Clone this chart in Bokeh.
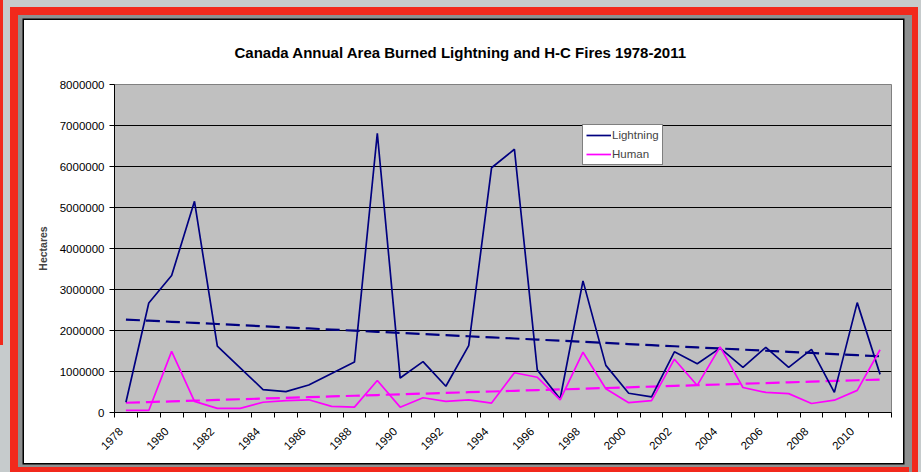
import numpy as np
from bokeh.plotting import figure
from bokeh.layouts import row
from bokeh.models import (Range1d, FixedTicker, BasicTickFormatter, Legend,
                          LegendItem, CustomJSTickFormatter, Spacer)
from bokeh.embed import file_html
from bokeh.resources import INLINE

# Annual area burned in Canada (hectares), by cause
years = list(range(1978, 2012))
lightning = [250000, 2670000, 3340000, 5150000, 1620000, 1090000, 560000,
             510000, 670000, 950000, 1230000, 6810000, 840000, 1240000,
             640000, 1630000, 5970000, 6420000, 1040000, 330000, 3210000,
             1150000, 470000, 380000, 1480000, 1190000, 1570000, 1100000,
             1590000, 1100000, 1540000, 490000, 2680000, 930000]
human = [50000, 50000, 1490000, 270000, 100000, 100000, 250000, 290000,
         310000, 150000, 130000, 780000, 130000, 360000, 270000, 310000,
         230000, 970000, 860000, 310000, 1470000, 580000, 240000, 290000,
         1300000, 660000, 1600000, 610000, 490000, 460000, 220000, 300000,
         540000, 1530000]
y_ticks = list(range(0, 8000001, 1000000))
label_years = list(range(1978, 2012, 2))

FONT = "Liberation Sans"
NAVY = "#000080"
MAGENTA = "#FF00FF"
RED = "#f2291c"

# slide-style frame around the white chart card (black rule, grey band,
# red border, pale backdrop), drawn as layered CSS shadows
frame_css = ", ".join([
    "0 0 0 1.5px #000000",
    f"0 453px 0 6px {RED}",
    "1.5px 2.5px 0 7.5px #8e9090",
    f"0.5px 1.5px 0 14.5px {RED}",
    "0 0 0 60px #c6cbcc",
])

p = figure(width=879, height=443, output_backend="svg", toolbar_location=None,
           x_range=Range1d(years[0] - 0.5, years[-1] + 0.5),
           y_range=Range1d(0, 8000000),
           min_border_left=90, min_border_right=12,
           min_border_top=64, min_border_bottom=51,
           margin=(20, 0, 0, 21),
           styles={"box-shadow": frame_css})

p.background_fill_color = "#C0C0C0"
p.border_fill_color = "white"
p.outline_line_color = "#808080"
p.outline_line_width = 1

# title
p.title.text = "Canada Annual Area Burned Lightning and H-C Fires 1978-2011"
p.title.align = "left"
p.title.offset = 120
p.title.standoff = 44
p.title.vertical_align = "top"
p.title.text_font = FONT
p.title.text_font_size = "15px"
p.title.text_font_style = "bold"
p.title.text_color = "black"

# y axis
yax = p.yaxis[0]
yax.ticker = FixedTicker(ticks=y_ticks)
yax.formatter = BasicTickFormatter(use_scientific=False)
yax.axis_label = "Hectares"
yax.axis_label_text_font = FONT
yax.axis_label_text_font_size = "10.5px"
yax.axis_label_text_font_style = "bold"
yax.axis_label_standoff = 8
yax.major_label_text_font = FONT
yax.major_label_text_font_size = "11.5px"
yax.major_label_text_color = "black"
yax.major_label_standoff = 5
yax.major_tick_out = 5
yax.major_tick_in = 0
yax.minor_tick_line_color = None
yax.axis_line_color = "black"
yax.major_tick_line_color = "black"

# x axis: slanted year labels on even years, tick marks between categories
xax = p.xaxis[0]
boundaries = [y - 0.5 for y in years] + [years[-1] + 0.5]
label_pos = [y - 0.22 for y in label_years]
xax.ticker = FixedTicker(ticks=label_pos, minor_ticks=boundaries)
xax.formatter = CustomJSTickFormatter(code="return String(Math.round(tick));")
xax.major_label_orientation = np.pi / 4
xax.major_label_text_font = FONT
xax.major_label_text_font_size = "11.5px"
xax.major_label_text_color = "black"
xax.major_label_standoff = 12
xax.major_tick_line_color = None
xax.major_tick_out = 0
xax.major_tick_in = 0
xax.minor_tick_line_color = "black"
xax.minor_tick_out = 5
xax.minor_tick_in = 0
xax.axis_line_color = "black"

p.xgrid.grid_line_color = None
p.ygrid.ticker = FixedTicker(ticks=y_ticks[1:-1])
p.ygrid.grid_line_color = "black"
p.ygrid.grid_line_width = 1

# linear trends
x = np.array(years, dtype=float)
l_trend = np.polyval(np.polyfit(x, lightning, 1), x)
h_trend = np.polyval(np.polyfit(x, human, 1), x)

p.line(x, l_trend, line_color=NAVY, line_width=2.2, line_dash="14 6")
p.line(x, h_trend, line_color=MAGENTA, line_width=2.2, line_dash="14 6")

r_l = p.line(years, lightning, line_color=NAVY, line_width=1.7)
r_h = p.line(years, human, line_color=MAGENTA, line_width=1.7)

legend = Legend(items=[LegendItem(label="Lightning", renderers=[r_l]),
                       LegendItem(label="Human", renderers=[r_h])],
                location=(468, 247), orientation="vertical",
                label_text_font=FONT, label_text_font_size="11.5px",
                glyph_width=25, glyph_height=14, label_height=14,
                label_standoff=1, spacing=5, padding=3, margin=0,
                border_line_color="black", border_line_width=1,
                background_fill_color="white", background_fill_alpha=1)
p.add_layout(legend)

# edge of a second red slide panel peeking out on the left
edge = Spacer(width=3, height=345, margin=0,
              styles={"background-color": RED, "position": "relative",
                      "z-index": "1"})

page = row(edge, p, spacing=0)

open("out.html", "w").write(file_html(page, INLINE))
